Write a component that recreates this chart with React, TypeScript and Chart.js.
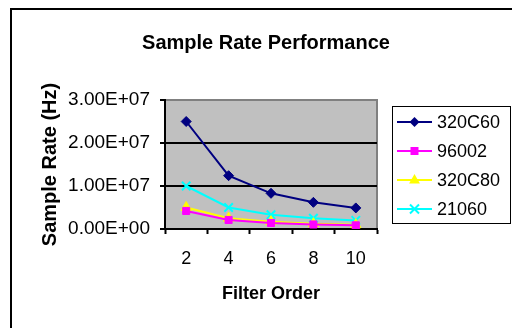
import React, { useEffect, useRef } from "react";
import { Chart, registerables } from "chart.js";

Chart.register(...registerables);

const filterOrders = ["2", "4", "6", "8", "10"];
const seriesNames = ["320C60", "96002", "320C80", "21060"];
const values320C60 = [2.5e7, 1.24e7, 8.3e6, 6.2e6, 4.9e6];
const values96002 = [4.2e6, 2.1e6, 1.4e6, 1.05e6, 8.5e5];
const values320C80 = [5.0e6, 2.5e6, 1.7e6, 1.25e6, 1.0e6];
const values21060 = [1.0e7, 5.0e6, 3.3e6, 2.5e6, 2.0e6];
const yTicks = [0, 1e7, 2e7, 3e7];

const FONT = "'Liberation Sans', Arial, sans-serif";

function fmtExp(v: number): string {
  const [m, e] = v.toExponential(2).split("e");
  const sign = e[0] === "-" ? "-" : "+";
  const digits = e.replace(/^[+-]/, "").padStart(2, "0");
  return m + "E" + sign + digits;
}

function drawMarker(ctx: CanvasRenderingContext2D, style: string, x: number, y: number, r: number, color: string) {
  ctx.save();
  ctx.fillStyle = color;
  ctx.strokeStyle = color;
  ctx.lineWidth = 2;
  ctx.beginPath();
  if (style === "rectRot") {
    ctx.moveTo(x, y - r);
    ctx.lineTo(x + r, y);
    ctx.lineTo(x, y + r);
    ctx.lineTo(x - r, y);
    ctx.closePath();
    ctx.fill();
  } else if (style === "rect") {
    ctx.rect(x - r * 0.8, y - r * 0.8, r * 1.6, r * 1.6);
    ctx.fill();
  } else if (style === "triangle") {
    ctx.moveTo(x, y - r);
    ctx.lineTo(x + r * 0.9, y + r * 0.6);
    ctx.lineTo(x - r * 0.9, y + r * 0.6);
    ctx.closePath();
    ctx.fill();
  } else {
    const d = r * 0.75;
    ctx.moveTo(x - d, y - d);
    ctx.lineTo(x + d, y + d);
    ctx.moveTo(x + d, y - d);
    ctx.lineTo(x - d, y + d);
    ctx.stroke();
  }
  ctx.restore();
}

const framePlugin = {
  id: "framePlugin",
  beforeDraw(chart: any) {
    const { ctx, chartArea } = chart;
    ctx.save();
    ctx.fillStyle = "#ffffff";
    ctx.fillRect(0, 0, chart.width, chart.height);
    ctx.strokeStyle = "#000000";
    ctx.lineWidth = 2;
    ctx.strokeRect(11, 9, chart.width + 20, chart.height + 20);
    ctx.fillStyle = "#c0c0c0";
    ctx.fillRect(chartArea.left, chartArea.top, chartArea.right - chartArea.left, chartArea.bottom - chartArea.top);
    ctx.strokeStyle = "#808080";
    ctx.lineWidth = 2;
    ctx.beginPath();
    ctx.moveTo(chartArea.left, chartArea.top);
    ctx.lineTo(chartArea.right, chartArea.top);
    ctx.lineTo(chartArea.right, chartArea.bottom);
    ctx.stroke();
    ctx.restore();
  },
  afterDraw(chart: any) {
    const { ctx } = chart;
    const bx = 392, by = 106, bw = 118, bh = 117;
    ctx.save();
    ctx.fillStyle = "#ffffff";
    ctx.fillRect(bx, by, bw, bh);
    ctx.strokeStyle = "#000000";
    ctx.lineWidth = 1;
    ctx.strokeRect(bx + 0.5, by + 0.5, bw, bh);
    chart.data.datasets.forEach((ds: any, i: number) => {
      const y = by + 16 + i * 29;
      ctx.strokeStyle = ds.borderColor;
      ctx.lineWidth = 2;
      ctx.beginPath();
      ctx.moveTo(397, y);
      ctx.lineTo(432, y);
      ctx.stroke();
      drawMarker(ctx, ds.pointStyle, 414.5, y, ds.pointRadius, ds.pointBackgroundColor);
      ctx.fillStyle = "#000000";
      ctx.font = "18px " + FONT;
      ctx.textAlign = "left";
      ctx.textBaseline = "middle";
      ctx.fillText(ds.label, 437, y + 1);
    });
    ctx.restore();
  },
};

export default function App() {
  const ref = useRef<HTMLCanvasElement | null>(null);
  useEffect(() => {
    if (!ref.current) return;
    const mk = (label: string, data: number[], color: string, style: string, r: number) => ({
      label,
      data,
      yAxisID: "y",
      borderColor: color,
      backgroundColor: color,
      pointBackgroundColor: color,
      pointBorderColor: color,
      pointStyle: style,
      pointRadius: r,
      pointBorderWidth: style === "crossRot" ? 2 : 1,
      borderWidth: 2,
      tension: 0,
      fill: false,
    });
    const chart = new Chart(ref.current, {
      type: "line",
      data: {
        labels: filterOrders,
        datasets: [
          mk(seriesNames[0], values320C60, "#000080", "rectRot", 5),
          mk(seriesNames[1], values96002, "#ff00ff", "rect", 5),
          mk(seriesNames[2], values320C80, "#ffff00", "triangle", 6),
          mk(seriesNames[3], values21060, "#00ffff", "crossRot", 6),
        ],
      },
      options: {
        animation: false,
        responsive: false,
        maintainAspectRatio: false,
        layout: { padding: { left: 20, right: 0, top: 0, bottom: 0 } },
        plugins: {
          legend: { display: false },
          tooltip: { enabled: false },
          title: {
            display: true,
            text: "Sample Rate Performance",
            color: "#000000",
            font: { family: FONT, size: 20, weight: "bold", lineHeight: 1.2 },
            padding: { top: 31, bottom: 45 },
          },
        },
        scales: {
          x: {
            type: "category",
            offset: true,
            afterFit: (s: any) => { s.height = 99; },
            grid: {
              offset: true,
              drawOnChartArea: false,
              drawTicks: true,
              tickLength: 5,
              tickColor: "#000000",
              tickWidth: 2,
            },
            border: { display: true, color: "#000000", width: 2 },
            ticks: {
              color: "#000000",
              font: { family: FONT, size: 18 },
              padding: 14,
              maxRotation: 0,
            },
            title: {
              display: true,
              text: "Filter Order",
              color: "#000000",
              font: { family: FONT, size: 18, weight: "bold", lineHeight: 1.2 },
              padding: { top: 0, bottom: 23 },
            },
          },
          y: {
            position: "left",
            min: 0,
            max: 3e7,
            afterFit: (s: any) => { s.width = 145; },
            afterBuildTicks: (s: any) => { s.ticks = yTicks.map((v) => ({ value: v })); },
            grid: {
              color: (c: any) => (c.tick && c.tick.value === 3e7 ? "#808080" : c.tick && c.tick.value === 0 ? "rgba(0,0,0,0)" : "#000000"),
              lineWidth: 2,
              tickLength: 5,
              tickColor: "#000000",
              tickWidth: 2,
              drawTicks: true,
            },
            border: { display: true, color: "#000000", width: 2 },
            ticks: {
              color: "#000000",
              font: { family: FONT, size: 19 },
              padding: 10,
              callback: (v: any) => fmtExp(Number(v)),
            },
            title: {
              display: true,
              text: "Sample Rate (Hz)",
              color: "#000000",
              font: { family: FONT, size: 20, weight: "bold", lineHeight: 1.2 },
              padding: { top: 18, bottom: 0 },
            },
          },
          legendSpace: {
            type: "linear",
            position: "right",
            display: true,
            afterFit: (s: any) => { s.width = 135; },
            grid: { display: false, drawTicks: false },
            border: { display: false },
            ticks: { display: false },
          },
        },
      },
      plugins: [framePlugin],
    } as any);
    return () => chart.destroy();
  }, []);
  return (
    <div style={{ position: "fixed", left: 0, top: 0, width: 512, height: 328 }}>
      <canvas ref={ref} width={512} height={328} style={{ width: 512, height: 328, display: "block" }} />
    </div>
  );
}
